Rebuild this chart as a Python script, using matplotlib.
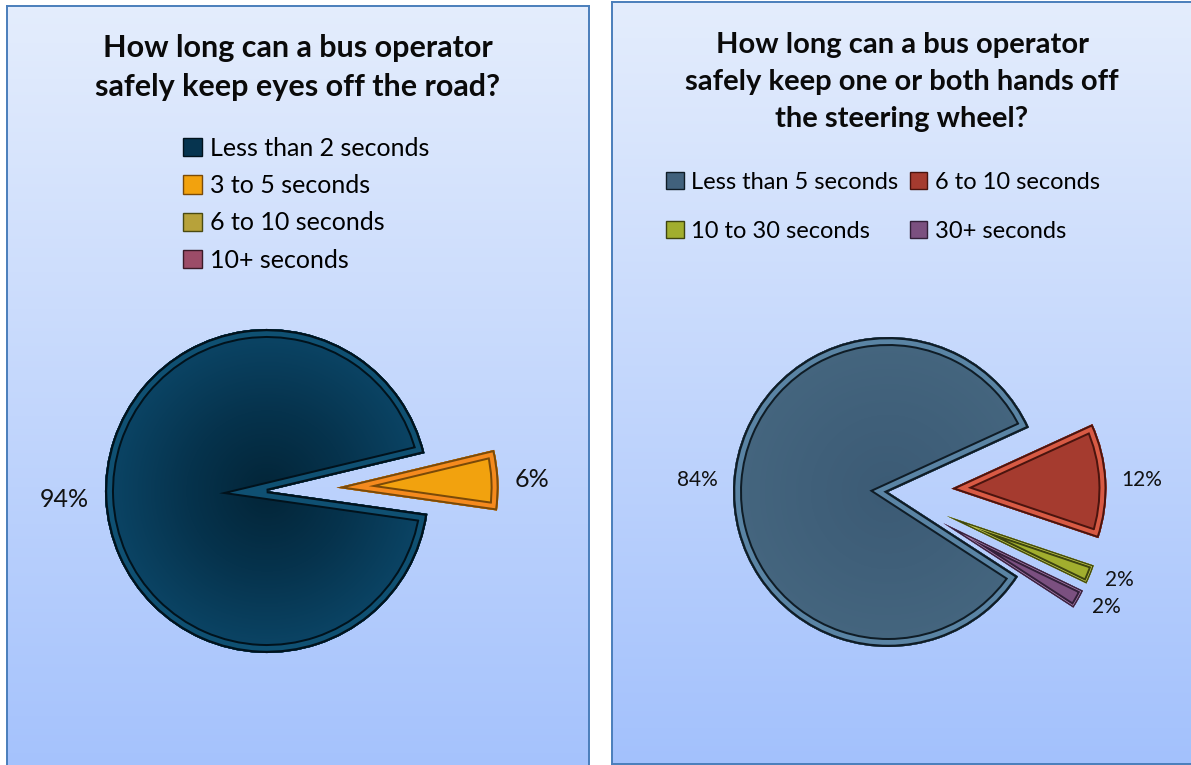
import numpy as np
import matplotlib
matplotlib.use("Agg")
import matplotlib.pyplot as plt
from matplotlib.colors import LinearSegmentedColormap
from matplotlib.patches import Patch, Wedge
import matplotlib.patheffects as pe

W, H = 1191, 765
plt.rcParams['font.family'] = ['Lato', 'DejaVu Sans']

# ---------------- data ----------------
left_title = "How long can a bus operator\nsafely keep eyes off the road?"
left_categories = ["Less than 2 seconds", "3 to 5 seconds", "6 to 10 seconds", "10+ seconds"]
left_values = [94, 6, 0, 0]

right_title = "How long can a bus operator\nsafely keep one or both hands off\nthe steering wheel?"
right_categories = ["Less than 5 seconds", "6 to 10 seconds", "10 to 30 seconds", "30+ seconds"]
right_values = [84, 12, 2, 2]

# ---------------- styles ----------------
left_fills = ["#06344f", "#f2a20e", "#b7a23a", "#9c4c68"]
left_bands = ["#0f5072", "#f58a1e", "#c8b040", "#b06080"]
left_darks = ["#01121c", "#7a4a08", "#4a4a10", "#3a1a28"]
left_explode_frac = [0, 0.43, 0, 0]
left_grad = ["#032538", "#06334d", "#0b4566"]

right_fills = ["#41617c", "#a53b2f", "#a1ae2e", "#7b5080"]
right_bands = ["#5a84a4", "#d85a44", "#c9d24a", "#b07fb0"]
right_darks = ["#0f1c26", "#4a140e", "#3e4410", "#33203a"]
right_explode_frac = [0, 0.41, 0.41, 0.41]
right_grad = ["#3c5b75", "#40607a", "#45667f"]

fig = plt.figure(figsize=(W / 100, H / 100), dpi=100)
fig.patch.set_facecolor("white")


def box(x0, y0, x1, y1, z=0):
    return fig.add_axes([x0 / W, 1 - y1 / H, (x1 - x0) / W, (y1 - y0) / H], zorder=z)


bg_cmap = LinearSegmentedColormap.from_list("bg", ["#e4edfd", "#a3c1fc"])
for (x0, y0, x1, y1) in [(7, 6, 589, 790), (612, 2, 1210, 764)]:
    b = box(x0, y0, x1, y1)
    b.imshow(np.linspace(0, 1, 256).reshape(-1, 1), cmap=bg_cmap, aspect="auto",
             extent=(0, 1, 0, 1), origin="upper")
    b.set_xticks([])
    b.set_yticks([])
    for s in b.spines.values():
        s.set_color("#4a7ebb")
        s.set_linewidth(1.4)

ax = fig.add_axes([0, 0, 1, 1], zorder=2)
PT = 0.72  # points per pixel


def draw_pie(values, fills, bands, darks, explode_frac, start, center_px, radius, bevel,
             label_size, grad):
    cx, cy = center_px[0], H - center_px[1]
    labels = [f"{v}%" if v > 0 else "" for v in values]
    explode = [e * radius for e in explode_frac]
    wedges, texts = ax.pie(values, explode=explode, colors=fills, startangle=start,
                           counterclock=False, center=(cx, cy), radius=radius,
                           labels=labels, labeldistance=1.1,
                           wedgeprops=dict(linewidth=0),
                           textprops=dict(fontsize=label_size, color="#111111"))
    big = wedges[0]
    Yg, Xg = np.mgrid[-1:1:300j, -1:1:300j]
    Rg = np.hypot(Xg, Yg)
    im = ax.imshow(Rg, extent=(cx - radius, cx + radius, cy - radius, cy + radius),
                   origin="lower", cmap=LinearSegmentedColormap.from_list("g", grad),
                   vmin=0, vmax=1, zorder=big.get_zorder() + 0.01,
                   interpolation="bilinear")
    im.set_clip_path(big)
    for w, v, band, dark, bv in zip(wedges, values, bands, darks, bevel):
        if v == 0:
            continue
        ol = Wedge(w.center, w.r, w.theta1, w.theta2, fill=False,
                   edgecolor=dark, linewidth=0.1, zorder=big.get_zorder() + 0.02)
        ol.set_path_effects([
            pe.Stroke(linewidth=2 * bv * PT, foreground=dark),
            pe.Stroke(linewidth=2 * (bv - 2) * PT, foreground=band),
            pe.Stroke(linewidth=2 * max(bv * 0.25, 1.3) * PT, foreground=dark),
        ])
        ax.add_patch(ol)
        ol.set_clip_path(w)
    for t, w in zip(texts, wedges):
        t.set_zorder(10)
        x, _ = t.get_position()
        t.set_ha("right" if x < cx else "left")
    return wedges


draw_pie(left_values, left_fills, left_bands, left_darks, left_explode_frac, -8.1,
         (267, 491), 162, [9, 8, 4, 4], 18, left_grad)
draw_pie(right_values, right_fills, right_bands, right_darks, right_explode_frac, -33,
         (888, 492), 155, [9, 8, 4, 4], 15, right_grad)

ax.set_xlim(0, W)
ax.set_ylim(0, H)
ax.set_aspect("auto")
ax.axis("off")

# titles
fig.text(298 / W, 1 - 67.5 / H, left_title, ha="center", va="center", fontsize=22,
         fontweight="bold", linespacing=1.5, color="#0a0a0a")
fig.text(902 / W, 1 - 82 / H, right_title, ha="center", va="center", fontsize=21,
         fontweight="bold", linespacing=1.53, color="#0a0a0a")

# legends
lh = [Patch(facecolor=f, edgecolor=d, linewidth=1) for f, d in zip(left_fills, left_darks)]
fig.legend(lh, left_categories, loc="upper left", bbox_to_anchor=(183 / W, 1 - 137 / H),
           frameon=False, fontsize=18, handlelength=0.75, handleheight=0.75,
           handletextpad=0.35, labelspacing=0.57, borderpad=0, borderaxespad=0)
order = [0, 2, 1, 3]  # row-major layout in two columns
rh = [Patch(facecolor=right_fills[i], edgecolor=right_darks[i], linewidth=1) for i in order]
fig.legend(rh, [right_categories[i] for i in order], loc="upper left",
           bbox_to_anchor=(666 / W, 1 - 172 / H),
           ncol=2, frameon=False, fontsize=17, handlelength=0.75, handleheight=0.75,
           handletextpad=0.3, labelspacing=1.17, columnspacing=0.5, borderpad=0,
           borderaxespad=0)

fig.savefig("out.png", dpi=100)
